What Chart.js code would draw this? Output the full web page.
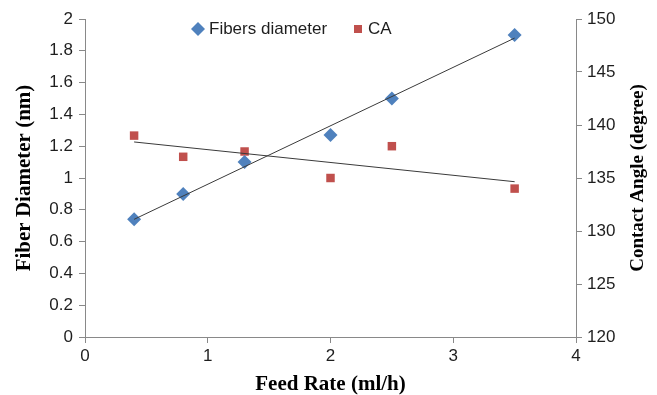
<!DOCTYPE html>
<html>
<head>
<meta charset="utf-8">
<script src="https://cdn.jsdelivr.net/npm/chart.js@4.4.0/dist/chart.umd.min.js"></script>
<style>
  html, body { margin: 0; padding: 0; background: #fff; }
  #wrap { width: 657px; height: 395px; }
</style>
</head>
<body>
<div id="wrap"><canvas id="chart"></canvas></div>
<script>
// values
const feedRate = [0.4, 0.8, 1.3, 2, 2.5, 3.5];
const fiberDiameter = [0.74, 0.9, 1.1, 1.27, 1.5, 1.9];
const contactAngle = [139, 137, 137.5, 135, 138, 134];

// trendline ends as drawn in the reference
const diamTrendX = [0.4, 3.5];
const diamTrendY = [0.74, 1.88];
const caTrendX = [0.4, 3.5];
const caTrendY = [138.4, 134.65];

const xTicks = [0, 1, 2, 3, 4];
const leftTicks = [0, 0.2, 0.4, 0.6, 0.8, 1, 1.2, 1.4, 1.6, 1.8, 2];
const rightTicks = [120, 125, 130, 135, 140, 145, 150];

const blue = '#4F81BD';
const red = '#C0504D';
const axisGray = '#898989';
const textCol = '#1e1e1e';

const pts = (xs, ys) => xs.map((x, i) => ({ x: x, y: ys[i] }));

const tickFont = { family: 'Liberation Sans', size: 17 };
const titleFont = { family: 'Liberation Serif', size: 21, weight: 'bold', lineHeight: 1 };

// own legend and right-hand title (reads bottom to top, like the left one)
const extras = {
  id: 'extras',
  afterDraw(chart) {
    const ctx = chart.ctx;
    const area = chart.chartArea;
    ctx.save();
    ctx.textBaseline = 'middle';
    const ly = 29;
    ctx.fillStyle = blue;
    Chart.helpers.drawPoint(ctx, { pointStyle: 'rectRot', radius: 7, borderWidth: 0 }, 198, ly);
    ctx.fillStyle = red;
    ctx.fillRect(354, ly - 4, 8, 8);
    ctx.font = '17px "Liberation Sans"';
    ctx.fillStyle = textCol;
    ctx.fillText('Fibers diameter', 209, ly);
    ctx.fillText('CA', 368, ly);

    ctx.translate(638, (area.top + area.bottom) / 2);
    ctx.rotate(-Math.PI / 2);
    ctx.font = 'bold 19px "Liberation Serif"';
    ctx.fillStyle = '#000';
    ctx.textAlign = 'center';
    ctx.fillText('Contact Angle (degree)', 0, 0);
    ctx.restore();
  }
};

const plain = v => String(+v.toFixed(1));

new Chart(document.getElementById('chart'), {
  type: 'scatter',
  data: {
    datasets: [
      {
        label: 'Fibers diameter',
        data: pts(feedRate, fiberDiameter),
        yAxisID: 'y',
        pointStyle: 'rectRot',
        pointRadius: 7,
        pointBorderWidth: 0,
        backgroundColor: blue,
        borderColor: blue,
        order: 2
      },
      {
        label: 'CA',
        data: pts(feedRate, contactAngle),
        yAxisID: 'y1',
        pointStyle: 'rect',
        pointRadius: 6,
        pointBorderWidth: 0,
        backgroundColor: red,
        borderColor: red,
        order: 2
      },
      {
        type: 'line',
        label: 'trend diameter',
        data: pts(diamTrendX, diamTrendY),
        yAxisID: 'y',
        borderColor: '#3a3a3a',
        borderWidth: 1,
        pointRadius: 0,
        order: 0
      },
      {
        type: 'line',
        label: 'trend CA',
        data: pts(caTrendX, caTrendY),
        yAxisID: 'y1',
        borderColor: '#3a3a3a',
        borderWidth: 1,
        pointRadius: 0,
        order: 0
      }
    ]
  },
  options: {
    responsive: true,
    maintainAspectRatio: false,
    animation: false,
    layout: { padding: { top: 19, right: 0, left: 0, bottom: 0 } },
    plugins: {
      legend: { display: false },
      tooltip: { enabled: false }
    },
    scales: {
      x: {
        type: 'linear',
        min: 0,
        max: 4,
        afterBuildTicks: s => { s.ticks = xTicks.map(v => ({ value: v })); },
        afterFit: s => { s.height = 58; },
        grid: { drawOnChartArea: false, tickLength: 6, color: axisGray },
        border: { color: axisGray },
        ticks: { font: tickFont, color: textCol, padding: 3, maxRotation: 0, callback: plain },
        title: { display: true, text: 'Feed Rate (ml/h)', font: titleFont, color: '#000', padding: { top: 4, bottom: 0 } }
      },
      y: {
        type: 'linear',
        position: 'left',
        min: 0,
        max: 2,
        afterBuildTicks: s => { s.ticks = leftTicks.map(v => ({ value: v })); },
        afterFit: s => { s.width = 85; },
        grid: { drawOnChartArea: false, tickLength: 6, color: axisGray },
        border: { color: axisGray },
        ticks: { font: tickFont, color: textCol, padding: 6, callback: plain },
        title: { display: true, text: 'Fiber Diameter (nm)', font: titleFont, color: '#000', padding: { top: 14, bottom: 0 } }
      },
      y1: {
        type: 'linear',
        position: 'right',
        min: 120,
        max: 150,
        afterBuildTicks: s => { s.ticks = rightTicks.map(v => ({ value: v })); },
        afterFit: s => { s.width = 81; },
        grid: { drawOnChartArea: false, tickLength: 6, color: axisGray },
        border: { color: axisGray },
        ticks: { font: tickFont, color: textCol, padding: 5, callback: plain }
      }
    }
  },
  plugins: [extras]
});
</script>
</body>
</html>
